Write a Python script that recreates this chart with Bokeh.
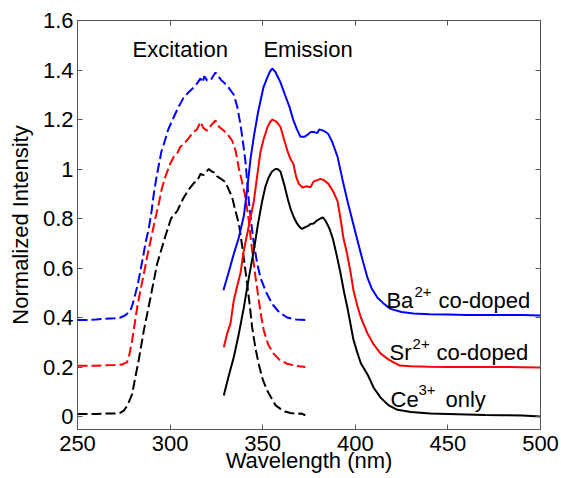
from bokeh.plotting import figure
from bokeh.models import Range1d, LinearAxis, FixedTicker, Label
from bokeh.embed import file_html
from bokeh.resources import INLINE

# ---------------- data ----------------
x_ticks = [250, 300, 350, 400, 450, 500]
x_tick_labels = ["250", "300", "350", "400", "450", "500"]
y_ticks = [0, 0.2, 0.4, 0.6, 0.8, 1.0, 1.2, 1.4, 1.6]
y_tick_labels = ["0", "0.2", "0.4", "0.6", "0.8", "1", "1.2", "1.4", "1.6"]

# Excitation spectra (dashed)
ex_ce_x = [250, 255, 260, 265, 270, 273, 275, 277, 279.5, 281, 283, 285.8, 289.4, 293, 297.5,
           300.5, 303.8, 307, 309, 311, 313, 314.5, 316.4, 318, 320.9, 322.5, 324, 325.4, 327.5,
           329.9, 331.5, 333.5, 335.3, 337.1, 339, 340.5, 341.6, 343, 344.3, 346, 347.9, 350,
           352.4, 355, 357, 359.6, 362, 365, 368.6, 371, 373]
ex_ce_y = [0.01, 0.01, 0.01, 0.012, 0.012, 0.015, 0.024, 0.045, 0.09, 0.15, 0.226, 0.347, 0.48, 0.617, 0.73,
           0.80, 0.83, 0.88, 0.905, 0.926, 0.945, 0.95, 0.98, 0.975, 1.0, 0.99, 0.985, 0.97, 0.96,
           0.947, 0.92, 0.886, 0.83, 0.78, 0.684, 0.60, 0.536, 0.45, 0.36, 0.28, 0.21, 0.15,
           0.105, 0.07, 0.045, 0.031, 0.02, 0.014, 0.011, 0.012, 0.005]

ex_sr_x = [250, 255, 260, 265, 270, 274, 276.8, 278, 279.5, 281, 282.2, 284, 285.8, 288, 290.3, 292,
           293.9, 295.5, 297.5, 300, 302, 304, 305.5, 307.4, 310, 312.8, 314.5, 316.4, 318, 320, 322,
           324.5, 326.5, 329, 331, 333.5, 335.5, 337, 338.8, 340.7, 342.5, 344.3, 346, 347.9, 349.3,
           350.6, 353, 356, 359, 363.2, 368, 373]
ex_sr_y = [0.205, 0.205, 0.205, 0.207, 0.208, 0.21, 0.22, 0.25, 0.307, 0.38, 0.44, 0.51, 0.576, 0.66, 0.74, 0.80,
           0.86, 0.92, 0.97, 1.02, 1.05, 1.065, 1.09, 1.10, 1.125, 1.15, 1.16, 1.19, 1.165, 1.155, 1.175,
           1.196, 1.17, 1.155, 1.14, 1.115, 1.07, 1.007, 0.95, 0.886, 0.79, 0.67, 0.57, 0.47, 0.40,
           0.347, 0.29, 0.253, 0.23, 0.213, 0.205, 0.20]

ex_ba_x = [250, 255, 260, 265, 270, 273.2, 276, 278.6, 280, 281.3, 282.7, 284, 285.4, 286.7, 288.5, 290,
           291.2, 292.5, 294, 295.3, 296.6, 299, 302, 304.5, 307.4, 310, 312.8, 314.5, 316.4, 317.5,
           318.5, 320, 322, 324.5, 326, 327.5, 329, 331.5, 334.4, 336.3, 338, 339.5, 340.7, 342.5, 344,
           345.2, 347, 348.8, 352, 355.1, 359, 363.2, 368, 373]
ex_ba_y = [0.39, 0.39, 0.392, 0.395, 0.397, 0.40, 0.41, 0.428, 0.46, 0.497, 0.54, 0.59, 0.645, 0.70, 0.76, 0.83,
           0.90, 0.96, 1.02, 1.07, 1.10, 1.16, 1.21, 1.25, 1.29, 1.31, 1.33, 1.345, 1.366, 1.35,
           1.375, 1.357, 1.36, 1.39, 1.375, 1.36, 1.35, 1.33, 1.30, 1.25, 1.18, 1.10, 1.03, 0.87, 0.77,
           0.70, 0.62, 0.56, 0.50, 0.455, 0.42, 0.40, 0.392, 0.39]

# Emission spectra (solid)
em_ce_x = [329, 331.5, 334.4, 337, 339.8, 342.5, 345.2, 347.5, 349.7, 351.5, 353.3, 355, 356.9, 358, 359.6,
           361.5, 363.5, 365, 366.8, 368.5, 370, 371.3, 373, 374.5, 375.8, 377.5, 379, 381.2, 382.5, 384,
           386, 388, 390, 392, 394, 396, 399, 401, 403, 406.6, 410, 413.6, 418, 422.8, 430, 440.6, 450,
           460, 470, 480, 490, 500]
em_ce_y = [0.085, 0.16, 0.24, 0.33, 0.44, 0.56, 0.67, 0.78, 0.87, 0.93, 0.967, 0.99, 1.0, 1.0, 0.99,
           0.94, 0.88, 0.84, 0.805, 0.78, 0.765, 0.758, 0.765, 0.77, 0.778, 0.78, 0.79, 0.80, 0.805, 0.79,
           0.76, 0.715, 0.65, 0.58, 0.50, 0.43, 0.31, 0.26, 0.215, 0.17, 0.115, 0.077, 0.045, 0.027, 0.018,
           0.012, 0.01, 0.008, 0.006, 0.005, 0.004, 0.0]

em_sr_x = [329, 331, 332.6, 334.4, 336, 338, 339.8, 342.5, 345.2, 347, 348.8, 350.5, 352.6, 354, 355.3,
           357.5, 359.6, 361.5, 363.5, 365, 366.6, 368, 369.5, 371.5, 373.5, 375.8, 377.5, 379.5, 381.2,
           383, 385.5, 388, 390.4, 392, 393.6, 395.5, 397.5, 399, 401, 403, 406.6, 410, 413.6, 418, 424,
           430, 440, 450, 460, 470, 480, 490, 500]
em_sr_y = [0.28, 0.34, 0.375, 0.47, 0.52, 0.58, 0.67, 0.77, 0.87, 0.97, 1.07, 1.12, 1.17, 1.19, 1.20,
           1.19, 1.17, 1.12, 1.07, 1.04, 1.02, 0.97, 0.94, 0.925, 0.93, 0.926, 0.95, 0.955, 0.96,
           0.955, 0.94, 0.91, 0.87, 0.80, 0.72, 0.66, 0.58, 0.51, 0.45, 0.40, 0.335, 0.29, 0.255, 0.23, 0.206,
           0.203, 0.201, 0.2, 0.2, 0.2, 0.2, 0.199, 0.198]

em_ba_x = [328.8, 331.5, 334.4, 337, 339.8, 341.8, 343.4, 345.2, 347.5, 350.4, 352.5, 354, 355.3, 357,
           359.6, 362, 364.5, 366.6, 368.5, 370.4, 372.5, 374.5, 376, 377.5, 379.5, 380.5, 382.3, 384,
           385.5, 387.5, 390.4, 393, 395.8, 398.5, 401.2, 404, 406.6, 409, 412, 415.5, 419, 425, 431.4,
           440, 450, 460, 470, 480, 490, 500]
em_ba_y = [0.51, 0.58, 0.657, 0.72, 0.81, 0.93, 1.04, 1.13, 1.23, 1.33, 1.37, 1.395, 1.406, 1.39,
           1.35, 1.30, 1.25, 1.196, 1.16, 1.13, 1.13, 1.14, 1.15, 1.15, 1.145, 1.16, 1.156, 1.15,
           1.14, 1.11, 1.05, 0.96, 0.87, 0.79, 0.71, 0.63, 0.56, 0.515, 0.48, 0.455, 0.435, 0.422, 0.416,
           0.413, 0.412, 0.41, 0.41, 0.41, 0.41, 0.408]

# ---------------- figure ----------------
FONT = "Liberation Sans"
FRAME = "#555555"

p = figure(width=561, height=478, output_backend="svg", toolbar_location=None,
           x_range=Range1d(250, 500), y_range=Range1d(-0.0525, 1.6),
           min_border_left=77, min_border_right=21, min_border_top=20, min_border_bottom=49)
p.background_fill_color = "white"
p.border_fill_color = "white"
p.outline_line_color = FRAME
p.outline_line_width = 1
p.grid.visible = False

for ax in p.xaxis:
    ax.ticker = FixedTicker(ticks=x_ticks)
    ax.major_label_overrides = {t: s for t, s in zip(x_ticks, x_tick_labels)}
for ax in p.yaxis:
    ax.ticker = FixedTicker(ticks=y_ticks)
    ax.major_label_overrides = {t: s for t, s in zip(y_ticks, y_tick_labels)}

for ax in list(p.xaxis) + list(p.yaxis):
    ax.axis_line_color = FRAME
    ax.major_tick_line_color = FRAME
    ax.major_tick_in = 5
    ax.major_tick_out = 0
    ax.minor_tick_line_color = None
    ax.major_label_text_font = FONT
    ax.major_label_text_font_size = "22px"
    ax.major_label_text_color = "black"
    ax.major_label_standoff = 4
p.xaxis[0].major_label_standoff = 6

for ax, name, so in ((p.yaxis[0], "Normalized Intensity", 7), (p.xaxis[0], "Wavelength (nm)", -6)):
    ax.axis_label = name
    ax.axis_label_text_font = FONT
    ax.axis_label_text_font_size = "22px"
    ax.axis_label_text_font_style = "normal"
    ax.axis_label_text_color = "black"
    ax.axis_label_standoff = so

# ticks on the top and right side of the box (no labels there)
top = LinearAxis(ticker=FixedTicker(ticks=x_ticks), axis_line_color=FRAME,
                 major_tick_line_color=FRAME, major_tick_in=5, major_tick_out=0,
                 minor_tick_line_color=None, major_label_text_font_size="1px",
                 major_label_overrides={t: "" for t in x_ticks},
                 major_label_standoff=0)
right = LinearAxis(ticker=FixedTicker(ticks=y_ticks), axis_line_color=FRAME,
                   major_tick_line_color=FRAME, major_tick_in=5, major_tick_out=0,
                   minor_tick_line_color=None, major_label_text_font_size="1px",
                   major_label_overrides={t: "" for t in y_ticks},
                   major_label_standoff=0)
p.add_layout(top, "above")
p.add_layout(right, "right")

DASH = "10 4"
W = 2
p.line(ex_ba_x, ex_ba_y, line_color="#0000ff", line_width=W, line_dash=DASH)
p.line(ex_sr_x, ex_sr_y, line_color="#ff0000", line_width=W, line_dash=DASH)
p.line(ex_ce_x, ex_ce_y, line_color="black", line_width=W, line_dash=DASH)
p.line(em_ba_x, em_ba_y, line_color="#0000ff", line_width=W)
p.line(em_sr_x, em_sr_y, line_color="#ff0000", line_width=W)
p.line(em_ce_x, em_ce_y, line_color="black", line_width=W)

LIFT = 8  # screen-pixel correction for the label baseline

def lab(x, y, text, size="22px", xo=0, yo=0, align="left"):
    p.add_layout(Label(x=x, y=y, text=text, x_offset=xo, y_offset=yo + LIFT,
                       text_font=FONT, text_font_size=size, text_color="black",
                       text_baseline="alphabetic", text_align=align))

lab(279.7, 1.452, "Excitation")
lab(350.4, 1.452, "Emission")

lab(416.8, 0.435, "Ba")
lab(416.8, 0.435, "2+", size="15px", xo=28, yo=9)
lab(416.8, 0.435, "co-doped", xo=52)

lab(418.5, 0.226, "Sr")
lab(418.5, 0.226, "2+", size="15px", xo=23, yo=9)
lab(418.5, 0.226, "co-doped", xo=47)

lab(419.0, 0.0376, "Ce")
lab(419.0, 0.0376, "3+", size="15px", xo=28, yo=9)
lab(419.0, 0.0376, "only", xo=55)

open("out.html", "w").write(file_html(p, INLINE))
